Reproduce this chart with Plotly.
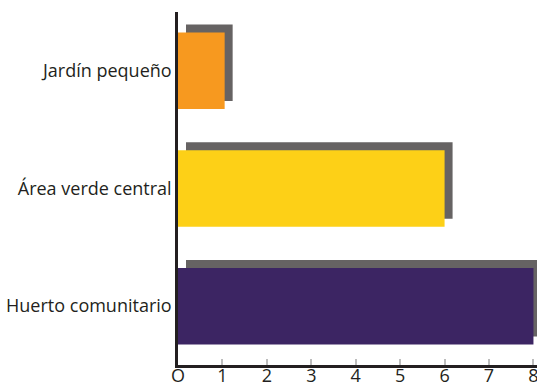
import plotly.graph_objects as go

# Data (bottom to top)
categories = ["Huerto comunitario", "Área verde central", "Jardín pequeño"]
values = [8, 6, 1.05]
bar_colors = ["#3C2563", "#FDD017", "#F7991F"]
x_ticks = [0, 1, 2, 3, 4, 5, 6, 7, 8]

SHADOW = "#666363"
AXIS = "#231F20"
BAR_W = 0.65
DX = 0.18    # shadow shift to the right (data units)
DY = 0.068   # shadow shift upwards (category units)

fig = go.Figure()

# Drop shadow behind each bar
fig.add_trace(go.Bar(
    y=categories,
    x=values,
    base=DX,
    orientation='h',
    width=BAR_W,
    offset=-BAR_W / 2 + DY,
    marker=dict(color=SHADOW, line=dict(width=0)),
    hoverinfo='skip',
    showlegend=False
))

# Main bars
fig.add_trace(go.Bar(
    y=categories,
    x=values,
    orientation='h',
    width=BAR_W,
    offset=-BAR_W / 2,
    marker=dict(color=bar_colors, line=dict(width=0)),
    hovertemplate='<b>%{y}</b><br>%{x}<extra></extra>',
    showlegend=False
))

fig.update_layout(
    width=537,
    height=384,
    barmode='overlay',
    margin=dict(l=178, r=0, t=12, b=19),
    plot_bgcolor='white',
    paper_bgcolor='white',
    font=dict(family="Open Sans", size=18, color=AXIS),
    xaxis=dict(
        range=[0, 8.08],
        tickvals=x_ticks,
        ticktext=["O" if t == 0 else str(t) for t in x_ticks],
        ticks='inside',
        ticklen=6,
        tickwidth=2,
        tickcolor='#BDBDBD',
        showline=True,
        linecolor=AXIS,
        linewidth=2.5,
        showgrid=False,
        zeroline=False,
        automargin=False,
        ticklabelstandoff=-7,
        ticklabeloverflow='allow'
    ),
    # second x axis only for the darker ticks on the right half
    xaxis2=dict(
        overlaying='x',
        anchor='y',
        side='bottom',
        range=[0, 8.08],
        tickvals=[5, 6, 7, 8],
        ticks='inside',
        ticklen=6,
        tickwidth=2.5,
        tickcolor=AXIS,
        showticklabels=False,
        showline=False,
        showgrid=False,
        zeroline=False
    ),
    yaxis=dict(
        range=[-0.5, 2.5],
        showline=True,
        linecolor=AXIS,
        linewidth=2.5,
        showgrid=False,
        zeroline=False,
        ticks='',
        ticklabelstandoff=0,
        automargin=False
    )
)

# drop the default page margin so the figure sits at the top-left corner
fig.write_html(
    "out.html",
    config={'displayModeBar': False},
    post_script="document.body.style.margin='0px';"
)
